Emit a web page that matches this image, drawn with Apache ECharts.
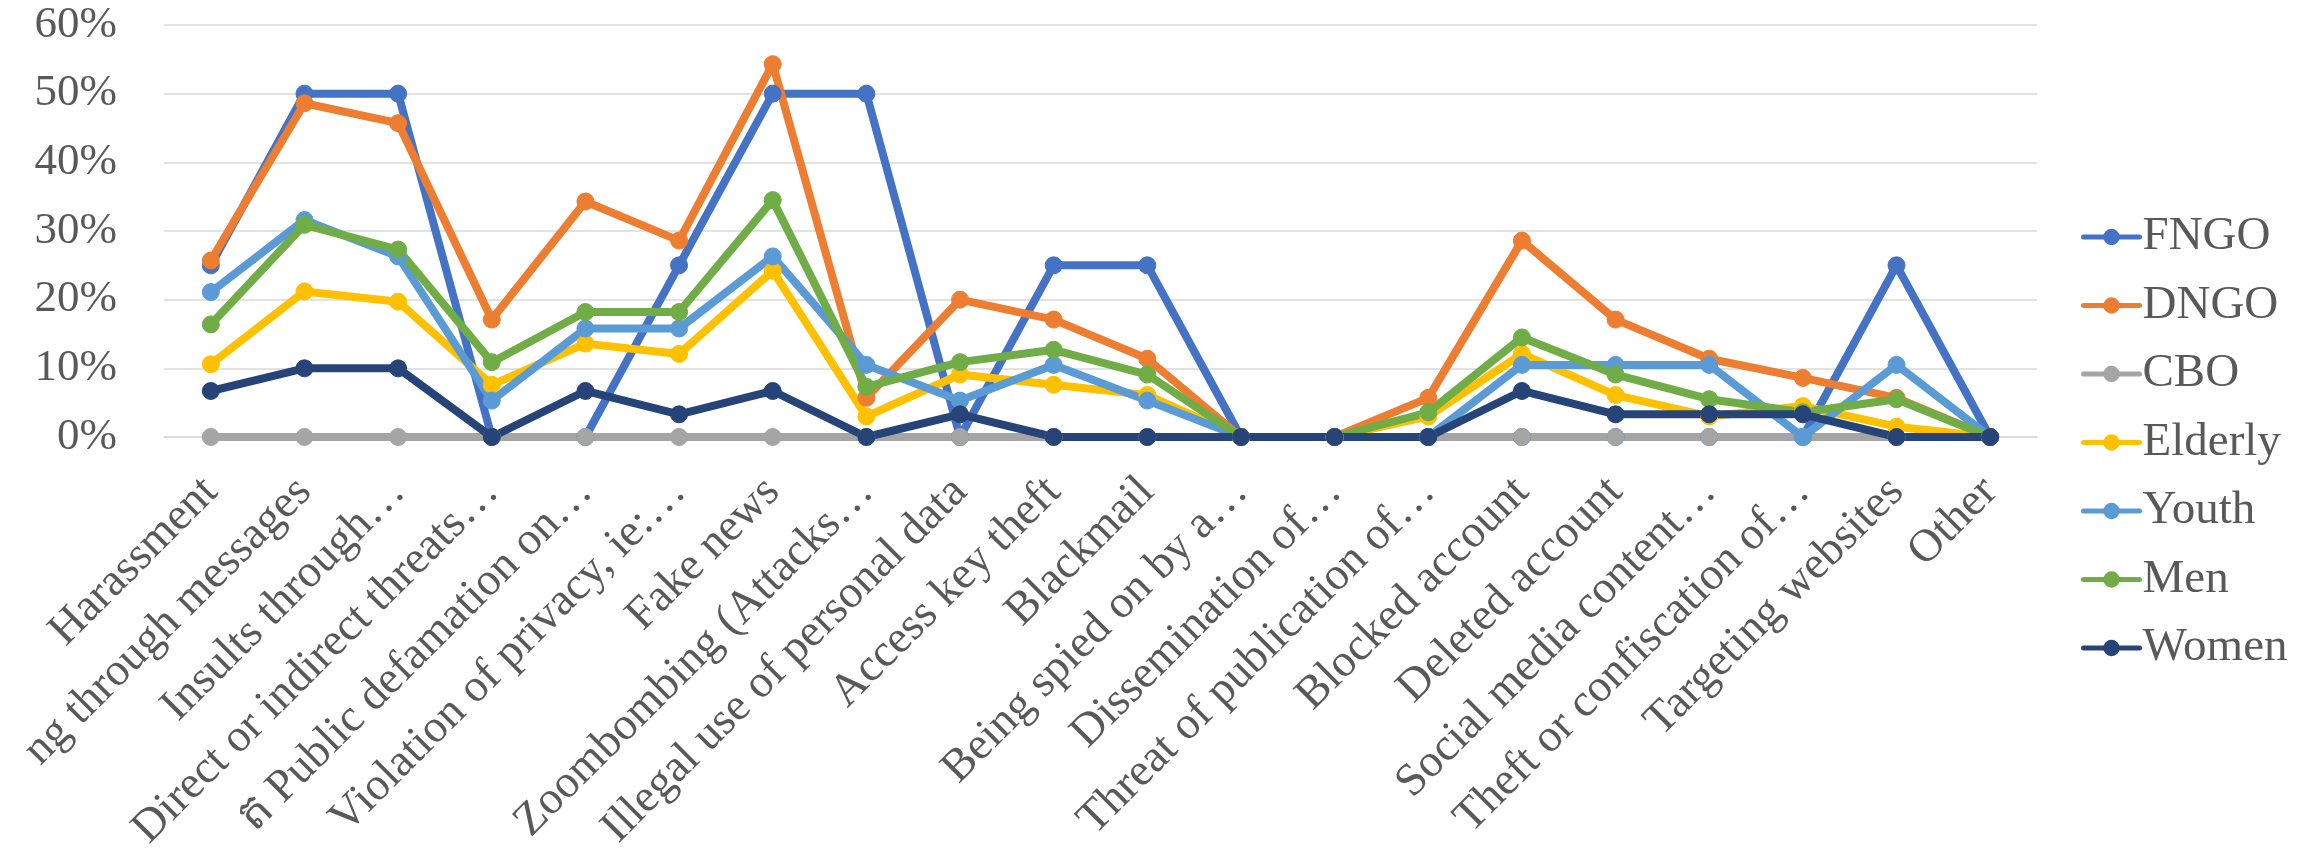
<!DOCTYPE html>
<html>
<head>
<meta charset="utf-8">
<script src="https://cdn.jsdelivr.net/npm/echarts@6/dist/echarts.min.js"></script>
<style>
  html, body { margin: 0; padding: 0; background: #ffffff; }
  #chart { width: 2308px; height: 863px; }
</style>
</head>
<body>
<div id="chart"></div>
<script>
// Types of online attacks reported, share of respondents per group (%)
const categories = [
  'Harassment',
  'ng through messages',
  'Insults through…',
  'Direct or indirect threats…',
  'ត Public defamation on…',
  'Violation of privacy, ie:…',
  'Fake news',
  'Zoombombing (Attacks…',
  'Illegal use of personal data',
  'Access key theft',
  'Blackmail',
  'Being spied on by a…',
  'Dissemination of…',
  'Threat of publication of…',
  'Blocked account',
  'Deleted account',
  'Social media content…',
  'Theft or confiscation of…',
  'Targeting websites',
  'Other'
];

const fngo    = [25, 50, 50, 0, 0, 25, 50, 50, 0, 25, 25, 0, 0, 0, 0, 0, 0, 0, 25, 0];
const dngo    = [25.7, 48.6, 45.7, 17.1, 34.3, 28.6, 54.3, 5.7, 20.0, 17.1, 11.4, 0, 0, 5.7, 28.6, 17.1, 11.4, 8.6, 5.7, 0];
const cbo     = [0, 0, 0, 0, 0, 0, 0, 0, 0, 0, 0, 0, 0, 0, 0, 0, 0, 0, 0, 0];
const elderly = [10.6, 21.2, 19.7, 7.6, 13.6, 12.1, 24.2, 3.0, 9.1, 7.6, 6.1, 0, 0, 3.0, 12.1, 6.1, 3.0, 4.5, 1.5, 0];
const youth   = [21.1, 31.6, 26.3, 5.3, 15.8, 15.8, 26.3, 10.5, 5.3, 10.5, 5.3, 0, 0, 0, 10.5, 10.5, 10.5, 0, 10.5, 0];
const men     = [16.4, 30.9, 27.3, 10.9, 18.2, 18.2, 34.5, 7.3, 10.9, 12.7, 9.1, 0, 0, 3.6, 14.5, 9.1, 5.5, 3.6, 5.5, 0];
const women   = [6.7, 10, 10, 0, 6.7, 3.3, 6.7, 0, 3.3, 0, 0, 0, 0, 0, 6.7, 3.3, 3.3, 3.3, 0, 0];

const yTicks = { min: 0, max: 60, interval: 10 };

const groups = [
  { name: 'FNGO',    data: fngo,    color: '#4472C4' },
  { name: 'DNGO',    data: dngo,    color: '#ED7D31' },
  { name: 'CBO',     data: cbo,     color: '#A5A5A5' },
  { name: 'Elderly', data: elderly, color: '#FFC000' },
  { name: 'Youth',   data: youth,   color: '#5B9BD5' },
  { name: 'Men',     data: men,     color: '#70AD47' },
  { name: 'Women',   data: women,   color: '#264478' }
];

const FONT = '"Liberation Serif", "Times New Roman", serif';
const TEXT = '#595959';
const LINE_WIDTH = 8;
const MARKER_SIZE = 17;

const chart = echarts.init(document.getElementById('chart'), null, { renderer: 'canvas' });

chart.setOption({
  backgroundColor: '#ffffff',
  animation: false,
  grid: {
    left: 164, right: 271, top: 25, bottom: 426,
    containLabel: false,
    outerBoundsMode: 'none'
  },
  legend: {
    orient: 'vertical',
    left: 2076,
    top: 208,
    itemWidth: 56,
    itemHeight: 18,
    itemGap: 20.5,
    lineStyle: { width: 5 },
    textStyle: { fontFamily: FONT, fontSize: 47, color: TEXT, lineHeight: 48, padding: [0, 0, 0, -2] },
    data: groups.map(g => g.name)
  },
  xAxis: {
    type: 'category',
    data: categories,
    boundaryGap: true,
    axisLine: { show: true, lineStyle: { color: '#D9D9D9', width: 1.7 } },
    axisTick: { show: false },
    axisLabel: {
      interval: 0,
      rotate: 45,
      margin: 48,
      fontFamily: FONT,
      fontSize: 46,
      color: TEXT
    }
  },
  yAxis: {
    type: 'value',
    min: yTicks.min,
    max: yTicks.max,
    interval: yTicks.interval,
    axisLine: { show: false },
    axisTick: { show: false },
    splitLine: { lineStyle: { color: '#D9D9D9', width: 1.7 } },
    axisLabel: {
      formatter: '{value}%',
      margin: 47,
      fontFamily: FONT,
      fontSize: 45,
      color: TEXT
    }
  },
  series: groups.map(g => ({
    name: g.name,
    type: 'line',
    data: g.data,
    symbol: 'circle',
    symbolSize: MARKER_SIZE,
    showSymbol: true,
    lineStyle: { width: LINE_WIDTH, color: g.color, cap: 'round', join: 'round' },
    itemStyle: { color: g.color, borderColor: g.color, borderWidth: 1 },
    emphasis: { disabled: true }
  }))
});
</script>
</body>
</html>
